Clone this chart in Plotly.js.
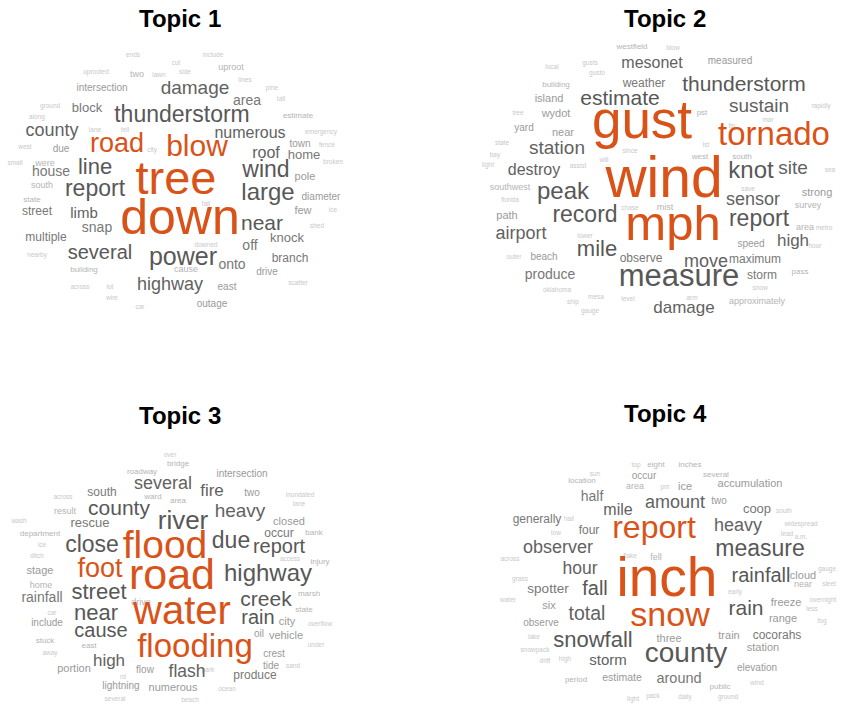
<!DOCTYPE html>
<html>
<head>
<meta charset="utf-8">
<script src="https://cdn.plot.ly/plotly-3.0.1.min.js"></script>
<style>html,body{margin:0;padding:0;background:#fff;}#chart{width:846px;height:705px;}</style>
</head>
<body>
<div id="chart"></div>
<script>
// ---------- Topic titles ----------
const topicTitles = ["Topic 1", "Topic 2", "Topic 3", "Topic 4"];

// ---------- Topic 1 ----------
const words1 = ["tree","down","blow","road","thunderstorm","damage","area","county","line","report","house","block","intersection","uproot","two","numerous","roof","home","town","wind","pole","large","diameter","few","near","knock","off","power","onto","branch","drive","cause","highway","east","outage","several","limb","snap","street","multiple","south","state","were","due","building","fall","downed","estimate","include","side","ends","uprooted","emergency","small","west","along","ground","car","wire","across","lot","nearby","scatter","shed","ice","broken","fence","pine","tall","lines","cut","lawn","lane","fell","city"];
const weights1 = [47,50,30,27,23,19,14,18,22,23,14,13,10,9,9,16,16,13,10,23,11,24,10,11,21,13,14,25,14,12,10,9,18,10,10,20,15,14,12,12,9,8,9,10,8,6.5,6.5,8,6.5,6.5,6.5,6.5,6.5,6.5,6.5,6.5,6.5,6.5,6.5,6.5,6.5,6.5,6.5,6.5,6.5,6.5,6.5,6.5,6.5,6.5,6.5,6.5,6.5,6.5,6.5];
const posX1 = [176,180,197,117,182,195,247,52,95,95,51,87,102,231,137,250,266,304,300,266,305,268,321,303,262,287,250,183,232,290,267,186,170,227,212,100,84,97,37,46,42,32,45,61,84,206,206,298,213,185,133,96,321,15,25,37,50,140,112,80,110,37,298,317,333,333,327,272,281,245,176,159,95,125,152];
const posY1 = [182,221,148,145,116,89,101,131,168,190,172,109,88,68,75,134,154,156,144,171,177,194,197,211,225,239,246,259,265,259,272,270,285,287,304,254,214,228,212,238,186,200,164,149,270,204,245,116,55,72,55,72,132,163,147,117,106,307,298,287,287,255,283,226,210,162,145,88,99,80,63,75,130,130,150];
const highlight1 = ["tree","down","blow","road"];

// ---------- Topic 2 ----------
const words2 = ["gust","wind","mph","tornado","thunderstorm","sustain","knot","site","measured","estimate","mesonet","weather","westfield","station","destroy","near","island","wydot","yard","building","peak","record","airport","path","southwest","mile","beach","produce","observe","measure","move","maximum","damage","storm","approximately","report","sensor","high","speed","strong","survey","area","pass","mist","save","pst","south","west","rapidly","local","gusts","tree","state","bay","light","assist","will","since","gusto","florida","lower","outer","oklahoma","mesa","level","ship","gauge","chase","metro","hour","snow","arm","blow","mar","tin","lst","sea"];
const weights2 = [53,57,49,33,21,19,24,19,10,21,16,12,8,19,16,11,11,11,10,8,24,23,18,11,9,22,10,14,12,31,18,12,17,12,9,23,18,17,10,11,9,9,8,9,6.5,8,8,8,6.5,6.5,6.5,6.5,6.5,6.5,6.5,6.5,6.5,6.5,6.5,6.5,6.5,6.5,6.5,6.5,6.5,6.5,6.5,6.5,6.5,6.5,6.5,6.5,6.5,6.5,6.5,6.5,6.5];
const posX2 = [642,664,673,774,744,759,751,793,730,620,652,644,632,557,534,563,549,556,524,556,563,585,521,507,510,597,544,550,641,679,706,755,684,762,757,759,753,793,751,817,808,805,800,665,748,702,742,700,821,552,590,518,502,495,488,578,604,630,597,510,585,514,557,596,628,573,590,630,824,815,760,692,673,768,732,706,830];
const posY2 = [125,183,228,137,86,107,172,169,61,100,64,84,47,149,171,133,99,114,128,85,193,216,234,216,188,250,257,275,259,278,262,260,309,276,302,220,200,242,244,193,206,228,272,208,189,113,157,157,106,67,63,113,143,155,165,166,160,151,73,200,236,257,290,297,299,302,311,208,228,246,288,298,48,120,126,145,170];
const highlight2 = ["gust","wind","mph","tornado"];

// ---------- Topic 3 ----------
const words3 = ["flood","road","water","flooding","foot","close","county","several","river","fire","two","intersection","heavy","due","report","occur","closed","bank","highway","creek","rain","city","oil","vehicle","crest","tide","produce","flash","flow","numerous","lightning","high","portion","cause","near","street","rainfall","stage","home","include","rescue","south","result","department","roadway","area","bridge","ward","drive","injury","state","marsh","stuck","east","away","across","wash","ice","ditch","over","inundated","lane","access","car","rd","several","beach","ocean","park","overflow","under","sand"];
const weights3 = [39,43,40,33,27,23,21,18,26,17,10,10,19,23,20,12,11,8,24,21,20,11,10,11,10,10,12,17.5,10,11,10,17,11,20,22,22,14,11,9,10,13,12,9,8,8,8,8,8,9,8,8,8,8,8,6.5,6.5,6.5,6.5,6.5,6.5,6.5,6.5,6.5,6.5,6.5,6.5,6.5,6.5,6.5,6.5,6.5,6.5];
const posX3 = [165,172,182,195,100,92,119,163,183,212,252,242,240,231,279,279,289,314,268,266,258,287,259,286,274,271,255,187,145,173,121,109,74,101,96,99,42,40,41,47,90,102,65,40,142,178,178,153,141,320,304,309,45,89,50,63,19,42,37,170,300,299,290,52,123,115,190,227,208,320,316,293];
const posY3 = [548,578,614,649,570,546,510,484,522,492,493,474,512,542,548,534,522,533,575,601,619,622,634,636,654,666,676,673,670,688,686,662,669,632,614,593,598,571,586,623,524,493,512,534,472,501,464,497,603,562,610,594,641,646,653,497,521,545,556,455,495,504,559,613,677,699,700,689,670,624,645,666];
const highlight3 = ["flood","road","water","flooding","foot"];

// ---------- Topic 4 ----------
const words4 = ["inch","report","snow","county","measure","rainfall","rain","heavy","amount","mile","half","observer","hour","fall","spotter","total","six","snowfall","storm","around","estimate","three","train","cocorahs","station","elevation","range","freeze","cloud","near","coop","two","accumulation","several","ice","area","occur","eight","inches","location","generally","four","period","public","high","observe","lake","fell","drift","sun","pm","hail","low","south","widespread","lead","a.m.","gauge","sleet","overnight","less","fog","water","snowpack","light","pack","daily","ground","wind","across","grass","early","top","flake"];
const weights4 = [55,32,34,28,23,20,21,18,18,16,14,18,17.5,20,13.5,19.5,11,22,15,14.5,10.5,11,11,12,11,10,11,11,11,9,13,10,11,8,11,9,10,8,8,8,12,12,8,8,6.5,10,6.5,9,6.5,6.5,6.5,6.5,6.5,6.5,6.5,6.5,6.5,6.5,6.5,6.5,6.5,6.5,6.5,6.5,6.5,6.5,6.5,6.5,6.5,6.5,6.5,6.5,6.5,6.5];
const posX4 = [667,654,670,686,760,761,746,738,675,618,592,558,580,595,548,587,549,593,608,679,622,669,729,777,763,757,783,786,803,803,757,719,750,716,685,635,644,656,690,582,537,589,576,720,565,541,534,656,545,595,665,569,556,784,801,787,801,827,829,823,812,822,508,535,633,653,685,728,757,510,520,735,636,630];
const posY4 = [582,530,617,655,550,577,610,526,503,511,497,548,570,590,590,615,606,641,661,679,678,639,636,636,648,668,619,603,576,585,510,501,484,475,487,487,476,465,465,481,520,531,680,687,659,623,637,558,661,474,487,519,533,511,524,534,537,569,584,600,609,621,600,650,699,696,697,697,683,559,579,592,465,556];
const highlight4 = ["inch","report","snow"];

// ---------- Rendering ----------
const FONT = "Liberation Sans, Arial, Helvetica, sans-serif";
const ORANGE = "#D95319";
function grey(s) {
  if (s >= 20) return "#585858";
  if (s >= 15) return "#626262";
  if (s >= 12) return "#787878";
  if (s >= 10) return "#9a9a9a";
  if (s >= 8) return "#b4b4b4";
  return "#c8c8c8";
}

const W = 846, H = 705;
// pixel boxes of the four panels [x0, x1, y0, y1]
const boxes = [[0, 360, 40, 320], [486, 846, 40, 320], [0, 360, 425, 705], [486, 846, 425, 705]];
const topics = [
  [words1, weights1, posX1, posY1, highlight1],
  [words2, weights2, posX2, posY2, highlight2],
  [words3, weights3, posX3, posY3, highlight3],
  [words4, weights4, posX4, posY4, highlight4]
];

const traces = [];
const layout = {
  width: W, height: H,
  margin: {l: 0, r: 0, t: 0, b: 0},
  paper_bgcolor: "#ffffff", plot_bgcolor: "#ffffff",
  showlegend: false,
  hovermode: false,
  annotations: []
};

topics.forEach((t, i) => {
  const [words, weights, px, py, hi] = t;
  const [x0, x1, y0, y1] = boxes[i];
  const sfx = i === 0 ? "" : String(i + 1);
  // draw small words first so large ones are on top
  const order = words.map((_, k) => k).sort((a, b) => weights[a] - weights[b]);
  traces.push({
    type: "scatter",
    mode: "text",
    x: order.map(k => px[k]),
    y: order.map(k => py[k]),
    text: order.map(k => words[k]),
    textposition: "middle center",
    textfont: {
      family: FONT,
      size: order.map(k => weights[k]),
      color: order.map(k => hi.includes(words[k]) ? ORANGE : grey(weights[k]))
    },
    cliponaxis: false,
    hoverinfo: "skip",
    xaxis: "x" + sfx,
    yaxis: "y" + sfx
  });
  layout["xaxis" + sfx] = {
    domain: [x0 / W, x1 / W], range: [x0, x1], visible: false, fixedrange: true,
    anchor: "y" + sfx
  };
  layout["yaxis" + sfx] = {
    domain: [1 - y1 / H, 1 - y0 / H], range: [y1, y0], visible: false, fixedrange: true,
    anchor: "x" + sfx
  };
});

const titlePos = [[180, 18], [665, 18], [180, 415], [665, 414]];
topicTitles.forEach((txt, i) => {
  layout.annotations.push({
    text: "<b>" + txt + "</b>",
    xref: "paper", yref: "paper",
    x: titlePos[i][0] / W, y: 1 - titlePos[i][1] / H,
    xanchor: "center", yanchor: "middle",
    showarrow: false,
    font: {family: FONT, size: 24, color: "#000000"}
  });
});

Plotly.newPlot("chart", traces, layout, {staticPlot: true, displayModeBar: false});
</script>
</body>
</html>
